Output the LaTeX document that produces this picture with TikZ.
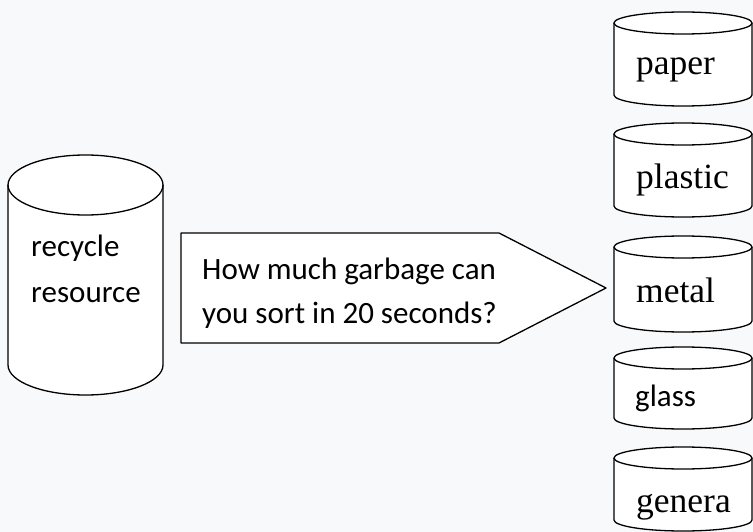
\documentclass[tikz,border=0pt]{standalone}
\usepackage{fontspec}
\newfontfamily\calib{Carlito}
\newfontfamily\tnr{Liberation Serif}
\definecolor{bgc}{HTML}{F8F9FA}
\newcommand\drumcyl[5]{%
  \pgfmathsetmacro\cx{(#1+#2)/2}%
  \pgfmathsetmacro\rx{(#2-#1)/2}%
  \pgfmathsetmacro\ty{#3+#5}%
  \pgfmathsetmacro\by{#4-#5}%
  \fill[white] (#1,\ty) -- (#1,\by) arc[start angle=180,end angle=0,x radius=\rx,y radius=#5]
     -- (#2,\ty) arc[start angle=0,end angle=-180,x radius=\rx,y radius=#5] -- cycle;
  \draw[outl] (\cx,\ty) ellipse[x radius=\rx,y radius=#5];
  \draw[outl] (#1,\ty) -- (#1,\by) arc[start angle=180,end angle=0,x radius=\rx,y radius=#5] -- (#2,\ty);
}
\begin{document}
\begin{tikzpicture}[x=1pt,y=-1pt,
  outl/.style={draw=black,line width=1.3pt,line join=round},
  sanstxt/.style={anchor=base west,inner sep=0pt,font=\calib\fontsize{31}{31}\selectfont},
  seriftxt/.style={anchor=base west,inner sep=0pt,font=\tnr\fontsize{35.5}{35.5}\selectfont}]
\useasboundingbox (0,0) rectangle (753,532);
\fill[bgc] (0,0) rectangle (753,532);
% left cylinder
\drumcyl{8}{163}{155}{395}{30}
\node[sanstxt] (t1) at (31,256) {recycle};
\node[sanstxt] (t2) at (31,302) {resource};
% pentagon arrow
\draw[outl,fill=white] (181,233) -- (499,233) -- (606,288) -- (499,343) -- (181,343) -- cycle;
\node[sanstxt] (q1) at (202,279) {How much garbage can};
\node[sanstxt] (q2) at (202,323) {you sort in 20 seconds?};
% right cylinders
\drumcyl{614}{752}{12}{106}{11}
\node[seriftxt] (paper) at (636,75) {paper};
\drumcyl{614}{752}{123}{217}{11}
\begin{scope}
\clip (600,100) rectangle (753,197);
\node[seriftxt] (plastic) at (636,189) {plastic};
\end{scope}
\drumcyl{614}{752}{236}{332}{11}
\node[seriftxt] (metal) at (636,302) {metal};
\drumcyl{614}{752}{347}{429}{11}
\begin{scope}
\clip (600,340) rectangle (753,411);
\node[sanstxt] (glass) at (635,406) {glass};
\end{scope}
\drumcyl{614}{752}{447}{531}{11}
\node[seriftxt] (genera) at (636,512) {genera};
\end{tikzpicture}
\end{document}
